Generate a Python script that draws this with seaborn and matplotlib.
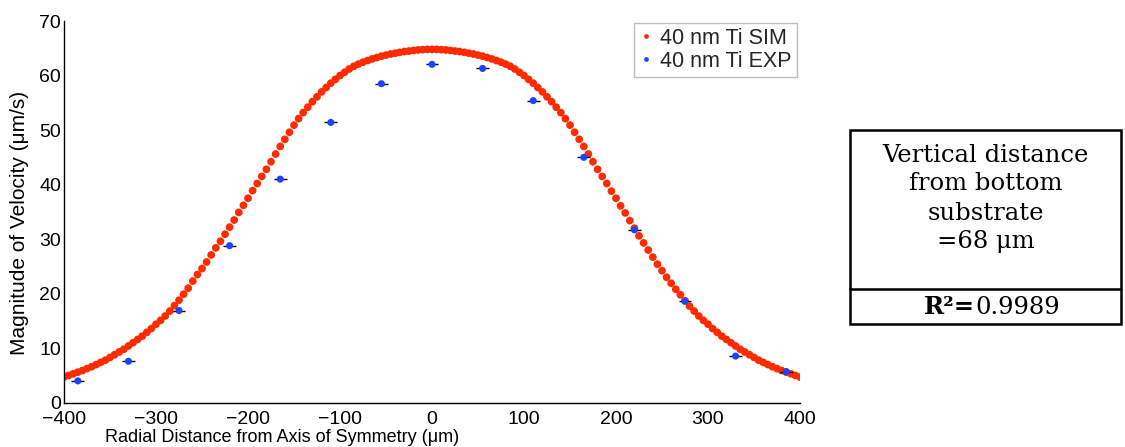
import numpy as np
import pandas as pd
import matplotlib
matplotlib.use("Agg")
import matplotlib.pyplot as plt
from matplotlib.patches import Rectangle
from matplotlib.lines import Line2D
import seaborn as sns

# Simulated velocity magnitude along the radial coordinate (um, um/s)
sim_x = [
    -400, -395, -390, -385, -380, -375, -370, -365, -360, -355, -350, -345, -340, -335, -330,
    -325, -320, -315, -310, -305, -300, -295, -290, -285, -280, -275, -270, -265, -260, -255,
    -250, -245, -240, -235, -230, -225, -220, -215, -210, -205, -200, -195, -190, -185, -180,
    -175, -170, -165, -160, -155, -150, -145, -140, -135, -130, -125, -120, -115, -110, -105,
    -100, -95, -90, -85, -80, -75, -70, -65, -60, -55, -50, -45, -40, -35, -30,
    -25, -20, -15, -10, -5, 0, 5, 10, 15, 20, 25, 30, 35, 40, 45,
    50, 55, 60, 65, 70, 75, 80, 85, 90, 95, 100, 105, 110, 115, 120,
    125, 130, 135, 140, 145, 150, 155, 160, 165, 170, 175, 180, 185, 190, 195,
    200, 205, 210, 215, 220, 225, 230, 235, 240, 245, 250, 255, 260, 265, 270,
    275, 280, 285, 290, 295, 300, 305, 310, 315, 320, 325, 330, 335, 340, 345,
    350, 355, 360, 365, 370, 375, 380, 385, 390, 395, 400,
]
sim_v = [
    4.7, 5.0, 5.3, 5.6, 5.9, 6.25, 6.6, 7.0, 7.4, 7.8, 8.3, 8.8, 9.3, 9.8, 10.4,
    11.0, 11.6, 12.2, 12.9, 13.6, 14.4, 15.1, 15.9, 16.8, 17.8, 18.8, 19.9, 21.0, 22.3, 23.5,
    24.6, 25.8, 27.1, 28.4, 29.6, 30.9, 32.2, 33.5, 34.9, 36.2, 37.5, 38.9, 40.2, 41.5, 42.8,
    44.2, 45.6, 47.0, 48.3, 49.6, 50.9, 52.1, 53.2, 54.2, 55.2, 56.1, 57.0, 57.8, 58.6, 59.3,
    60.0, 60.6, 61.2, 61.7, 62.1, 62.45, 62.75, 63.05, 63.3, 63.55, 63.75, 63.95, 64.1, 64.25, 64.4,
    64.5, 64.6, 64.7, 64.75, 64.8, 64.8, 64.8, 64.75, 64.7, 64.6, 64.5, 64.4, 64.25, 64.1, 63.95,
    63.75, 63.55, 63.3, 63.05, 62.75, 62.45, 62.1, 61.7, 61.2, 60.6, 60.0, 59.3, 58.6, 57.8, 57.0,
    56.1, 55.2, 54.2, 53.2, 52.1, 50.9, 49.6, 48.3, 47.0, 45.6, 44.2, 42.8, 41.5, 40.2, 38.8,
    37.5, 36.1, 34.8, 33.4, 32.0, 30.6, 29.3, 28.0, 26.7, 25.4, 24.2, 23.0, 21.9, 20.8, 19.8,
    18.7, 17.7, 16.8, 15.9, 15.1, 14.4, 13.6, 12.9, 12.2, 11.6, 11.0, 10.4, 9.8, 9.3, 8.8,
    8.3, 7.8, 7.4, 7.0, 6.6, 6.25, 5.9, 5.6, 5.3, 5.0, 4.7,
]

# Measured velocity magnitude with radial position uncertainty
exp_x = [-385, -330, -275, -220, -165, -110, -55, 0, 55, 110, 165, 220, 275, 330, 385]
exp_v = [4.0, 7.6, 16.9, 28.8, 41.0, 51.4, 58.5, 62.05, 61.3, 55.4, 45.0, 31.7, 18.6, 8.55, 5.7]
exp_xerr = [7, 7, 7, 7, 7, 7, 7, 7, 7, 7, 7, 7, 7, 7, 7]

x_ticks = [-400, -300, -200, -100, 0, 100, 200, 300, 400]
y_ticks = [0, 10, 20, 30, 40, 50, 60, 70]

sim_label = "40 nm Ti SIM"
exp_label = "40 nm Ti EXP"
x_title = "Radial Distance from Axis of Symmetry (\u03bcm)"
y_title = "Magnitude of Velocity (\u03bcm/s)"
note_lines = ["Vertical distance", "from bottom", "substrate", "=68 \u03bcm"]
fit_name = "R\u00b2="
fit_value = "0.9989"

sns.set_theme(style="white")
plt.rcParams["font.family"] = ["Liberation Sans", "DejaVu Sans"]

red = "#ff2a00"
blue = "#1a44ff"

fig = plt.figure(figsize=(11.25, 4.47), dpi=100)
ax = fig.add_axes([0.0569, 0.0991, 0.6542, 0.8539])

sim_df = pd.DataFrame({"r": sim_x, "v": sim_v})
exp_df = pd.DataFrame({"r": exp_x, "v": exp_v})

sns.scatterplot(data=sim_df, x="r", y="v", ax=ax, color=red, s=31,
                edgecolor="none", linewidth=0, zorder=2, legend=False)
ax.errorbar(exp_x, exp_v, xerr=exp_xerr, fmt="none", ecolor="black",
            elinewidth=1.0, capsize=0, zorder=3)
sns.scatterplot(data=exp_df, x="r", y="v", ax=ax, color=blue, s=26,
                edgecolor="none", linewidth=0, zorder=4, legend=False)

ax.set_xlim(-400, 400)
ax.set_ylim(0, 70)
ax.set_xticks(x_ticks)
ax.set_yticks(y_ticks)
ax.set_xticklabels([f"{t}".replace("-", "\u2212") for t in x_ticks])
ax.set_yticklabels([str(t) for t in y_ticks])
ax.tick_params(direction="in", length=5, width=1, colors="black",
               labelsize=14, pad=2)
ax.tick_params(axis="x", pad=6)
for side in ("top", "right"):
    ax.spines[side].set_visible(False)
for side in ("left", "bottom"):
    ax.spines[side].set_color("black")
    ax.spines[side].set_linewidth(1.0)
ax.set_xlabel(x_title, fontsize=13, color="black")
ax.set_ylabel(y_title, fontsize=15, color="black")
ax.xaxis.set_label_coords(0.296, -0.092)
ax.xaxis.label.set_va("center")
ax.yaxis.set_label_coords(-0.061, 0.47)
ax.yaxis.label.set_va("center")
ax.grid(False)

handles = [
    Line2D([], [], linestyle="none", marker="o", markersize=3.4,
           markerfacecolor=red, markeredgecolor="none"),
    Line2D([], [], linestyle="none", marker="o", markersize=3.4,
           markerfacecolor=blue, markeredgecolor="none"),
]
leg = ax.legend(handles, [sim_label, exp_label], loc="upper right",
                bbox_to_anchor=(0.996, 0.996), fontsize=15.5, frameon=True,
                fancybox=False, handlelength=0.6, handletextpad=0.35,
                borderpad=0.25, labelspacing=0.08, borderaxespad=0.0)
leg.get_frame().set_edgecolor("#b0b0b0")
leg.get_frame().set_linewidth(1.0)

# Annotation box to the right of the axes
W, H = 1125.0, 447.0
def fx(px):
    return px / W
def fy(py):
    return 1 - py / H

box = Rectangle((fx(850), fy(324)), fx(1121) - fx(850), fy(130) - fy(324),
                transform=fig.transFigure, fill=False, edgecolor="black",
                linewidth=1.8)
fig.add_artist(box)
fig.add_artist(Line2D([fx(850), fx(1121)], [fy(289), fy(289)],
                      transform=fig.transFigure, color="black", linewidth=1.8))

serif = ["DejaVu Serif"]
for text, py in zip(note_lines, [155, 184, 213, 242]):
    fig.text(fx(985.5), fy(py), text, ha="center", va="center",
             fontsize=17.5, family=serif, color="black")
fig.text(fx(975), fy(307), fit_name, ha="right", va="center",
         fontsize=17.5, family=serif, fontweight="bold", color="black")
fig.text(fx(975), fy(307), fit_value, ha="left", va="center",
         fontsize=17.5, family=serif, color="black")

fig.savefig("out.png", dpi=100, facecolor="white")
